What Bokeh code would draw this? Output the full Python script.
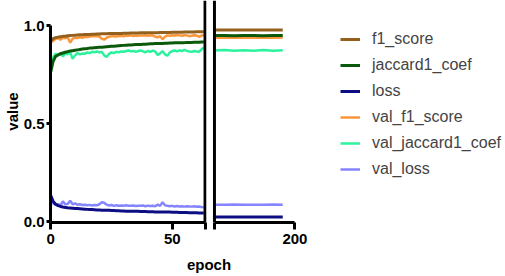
from bokeh.plotting import figure
from bokeh.models import Range1d, Span, FixedTicker, Legend, LegendItem, Label
from bokeh.layouts import row, column
from bokeh.embed import file_html
from bokeh.resources import INLINE

FONT = "Liberation Sans"

epochs_left = list(range(64))
f1_score_left = [0.925, 0.935, 0.940, 0.943, 0.945, 0.947, 0.948, 0.950, 0.951, 0.952,
                 0.953, 0.954, 0.955, 0.955, 0.956, 0.957, 0.957, 0.958, 0.958, 0.959,
                 0.959, 0.960, 0.960, 0.960, 0.961, 0.961, 0.961, 0.962, 0.962, 0.962,
                 0.963, 0.963, 0.963, 0.964, 0.964, 0.964, 0.964, 0.965, 0.965, 0.965,
                 0.965, 0.966, 0.966, 0.966, 0.966, 0.967, 0.967, 0.967, 0.967, 0.967,
                 0.968, 0.968, 0.968, 0.968, 0.968, 0.969, 0.969, 0.969, 0.969, 0.969,
                 0.970, 0.970, 0.970, 0.970]
jaccard1_coef_left = [0.765, 0.820, 0.845, 0.852, 0.858, 0.862, 0.866, 0.869, 0.872, 0.874,
                      0.876, 0.878, 0.880, 0.882, 0.884, 0.885, 0.887, 0.888, 0.889, 0.890,
                      0.891, 0.892, 0.893, 0.894, 0.895, 0.896, 0.897, 0.898, 0.899, 0.900,
                      0.901, 0.902, 0.903, 0.903, 0.904, 0.905, 0.905, 0.906, 0.907, 0.907,
                      0.908, 0.909, 0.909, 0.910, 0.910, 0.911, 0.911, 0.912, 0.912, 0.913,
                      0.913, 0.914, 0.914, 0.914, 0.915, 0.915, 0.916, 0.916, 0.916, 0.917,
                      0.917, 0.917, 0.918, 0.918]
loss_left = [0.135, 0.105, 0.090, 0.083, 0.079, 0.076, 0.074, 0.072, 0.071, 0.070,
             0.069, 0.068, 0.067, 0.066, 0.065, 0.064, 0.063, 0.063, 0.062, 0.061,
             0.061, 0.060, 0.060, 0.059, 0.059, 0.058, 0.058, 0.057, 0.057, 0.056,
             0.056, 0.055, 0.055, 0.055, 0.054, 0.054, 0.054, 0.053, 0.053, 0.053,
             0.052, 0.052, 0.052, 0.051, 0.051, 0.051, 0.050, 0.050, 0.050, 0.050,
             0.049, 0.049, 0.049, 0.048, 0.048, 0.048, 0.048, 0.047, 0.047, 0.047,
             0.047, 0.046, 0.046, 0.046]
val_f1_score_left = [0.915, 0.925, 0.935, 0.938, 0.930, 0.940, 0.937, 0.942, 0.915, 0.935,
                     0.940, 0.938, 0.943, 0.940, 0.945, 0.944, 0.946, 0.948, 0.947, 0.949,
                     0.946, 0.935, 0.930, 0.940, 0.945, 0.947, 0.948, 0.946, 0.949, 0.950,
                     0.948, 0.951, 0.950, 0.952, 0.949, 0.951, 0.950, 0.952, 0.951, 0.953,
                     0.950, 0.952, 0.951, 0.945, 0.942, 0.948, 0.932, 0.945, 0.952, 0.950,
                     0.953, 0.951, 0.954, 0.952, 0.950, 0.953, 0.952, 0.948, 0.950, 0.953,
                     0.951, 0.945, 0.950, 0.955]
val_jaccard1_coef_left = [0.815, 0.840, 0.858, 0.850, 0.862, 0.845, 0.860, 0.855, 0.865, 0.832,
                          0.850, 0.862, 0.855, 0.860, 0.858, 0.865, 0.862, 0.868, 0.866, 0.870,
                          0.865, 0.868, 0.850, 0.842, 0.858, 0.865, 0.862, 0.868, 0.866, 0.870,
                          0.868, 0.872, 0.875, 0.870, 0.873, 0.868, 0.872, 0.875, 0.870, 0.866,
                          0.872, 0.868, 0.874, 0.870, 0.852, 0.860, 0.872, 0.855, 0.848, 0.865,
                          0.872, 0.875, 0.870, 0.876, 0.872, 0.878, 0.873, 0.870, 0.868, 0.872,
                          0.870, 0.868, 0.880, 0.890]
val_loss_left = [0.100, 0.095, 0.088, 0.090, 0.085, 0.105, 0.090, 0.092, 0.108, 0.090,
                 0.095, 0.088, 0.090, 0.086, 0.088, 0.085, 0.087, 0.084, 0.086, 0.085,
                 0.090, 0.100, 0.098, 0.088, 0.084, 0.086, 0.082, 0.085, 0.083, 0.084,
                 0.082, 0.085, 0.083, 0.082, 0.084, 0.081, 0.083, 0.082, 0.084, 0.080,
                 0.083, 0.081, 0.082, 0.080, 0.088, 0.082, 0.100, 0.085, 0.082, 0.080,
                 0.082, 0.079, 0.081, 0.079, 0.080, 0.078, 0.080, 0.079, 0.078, 0.080,
                 0.077, 0.079, 0.076, 0.075]

epochs_right = [167, 171, 175, 179, 183, 187, 191, 195]
f1_score_right = [0.980, 0.980, 0.980, 0.980, 0.980, 0.980, 0.980, 0.980]
jaccard1_coef_right = [0.951, 0.951, 0.950, 0.951, 0.951, 0.950, 0.951, 0.951]
loss_right = [0.025, 0.025, 0.025, 0.025, 0.025, 0.025, 0.025, 0.025]
val_f1_score_right = [0.940, 0.941, 0.940, 0.940, 0.941, 0.940, 0.940, 0.941]
val_jaccard1_coef_right = [0.875, 0.877, 0.873, 0.876, 0.874, 0.877, 0.874, 0.876]
val_loss_right = [0.088, 0.087, 0.089, 0.088, 0.087, 0.088, 0.089, 0.088]

series_names = ["f1_score", "jaccard1_coef", "loss", "val_f1_score", "val_jaccard1_coef", "val_loss"]
series_colors = ["#94601E", "#0B5A0B", "#0E0E84", "#F9973A", "#2CF29E", "#8585FF"]
series_widths = [3, 3, 3, 2.5, 2.5, 2.5]
left_values = [f1_score_left, jaccard1_coef_left, loss_left,
               val_f1_score_left, val_jaccard1_coef_left, val_loss_left]
right_values = [f1_score_right, jaccard1_coef_right, loss_right,
                val_f1_score_right, val_jaccard1_coef_right, val_loss_right]

y_ticks = [0.0, 0.5, 1.0]
left_x_ticks = [0, 50]
right_x_ticks = [200]
left_break = 63.5
right_break = 167

yr = Range1d(-0.003, 1.13)


def base_style(p):
    p.xgrid.visible = False
    p.ygrid.visible = False
    p.outline_line_color = None
    p.background_fill_color = "white"
    p.border_fill_color = "white"


def style_axis(ax):
    ax.axis_line_width = 3
    ax.axis_line_color = "black"
    ax.major_tick_line_width = 3
    ax.major_tick_line_color = "black"
    ax.minor_tick_line_color = None
    ax.major_tick_in = 0
    ax.major_label_text_font = FONT
    ax.major_label_text_font_style = "bold"
    ax.major_label_text_font_size = "15px"
    ax.major_label_text_color = "black"
    ax.axis_label_text_font = FONT
    ax.axis_label_text_font_style = "bold"
    ax.axis_label_text_font_size = "15px"
    ax.axis_label_text_color = "black"


# ---------------- left segment ----------------
L = figure(width=207, height=250, x_range=Range1d(-0.1, 64.1), y_range=yr,
           output_backend="svg", toolbar_location=None,
           min_border_left=49, min_border_right=1, min_border_top=0, min_border_bottom=28)
base_style(L)
for vals, c, w in list(zip(left_values, series_colors, series_widths))[::-1]:
    L.line(epochs_left, vals, line_color=c, line_width=w)

style_axis(L.xaxis[0])
L.xaxis[0].ticker = FixedTicker(ticks=left_x_ticks + [left_break])
L.xaxis[0].major_label_overrides = {left_break: ""}
L.xaxis[0].bounds = (0, left_break)
L.xaxis[0].major_tick_out = 7
L.xaxis[0].major_label_standoff = 4

style_axis(L.yaxis[0])
L.yaxis[0].ticker = FixedTicker(ticks=y_ticks)
L.yaxis[0].major_label_overrides = {0.0: "0.0", 0.5: "0.5", 1.0: "1.0"}
L.yaxis[0].bounds = (0, 1)
L.yaxis[0].major_tick_out = 4
L.yaxis[0].major_label_standoff = 2
L.yaxis[0].axis_label = "value"
L.yaxis[0].axis_label_standoff = 0
L.add_layout(Span(location=left_break, dimension="height", line_color="black", line_width=3))

# ---------------- right segment (frame runs to the page edge to hold the legend) ----------------
R = figure(width=298, height=250, x_range=Range1d(166.2, 286.3), y_range=yr,
           output_backend="svg", toolbar_location=None, y_axis_location=None,
           min_border_left=5, min_border_right=0, min_border_top=0, min_border_bottom=28)
base_style(R)
renderers = {}
for name, vals, c, w in list(zip(series_names, right_values, series_colors, series_widths))[::-1]:
    renderers[name] = R.line(epochs_right, vals, line_color=c, line_width=w)

style_axis(R.xaxis[0])
R.xaxis[0].ticker = FixedTicker(ticks=[right_break] + right_x_ticks)
R.xaxis[0].major_label_overrides = {right_break: ""}
R.xaxis[0].bounds = (right_break, 200)
R.xaxis[0].major_tick_out = 7
R.xaxis[0].major_label_standoff = 4
R.add_layout(Span(location=right_break, dimension="height", line_color="black", line_width=3))

legend = Legend(items=[LegendItem(label=n, renderers=[renderers[n]]) for n in series_names],
                location=(128, 43), label_text_font=FONT, label_text_font_size="16px",
                glyph_width=20, glyph_height=20, label_height=20, label_standoff=12,
                spacing=6, padding=0, margin=0, border_line_color=None,
                background_fill_alpha=0)
R.add_layout(legend, "center")

# ---------------- x axis title strip ----------------
B = figure(width=505, height=26, x_range=Range1d(0, 505), y_range=Range1d(0, 26),
           output_backend="svg", toolbar_location=None,
           x_axis_location=None, y_axis_location=None, min_border=0)
base_style(B)
B.add_layout(Label(x=208.5, y=12, text="epoch", text_align="center", text_baseline="middle",
                   text_font=FONT, text_font_style="bold", text_font_size="15px",
                   text_color="black"))

layout = column(row(L, R), B)
open("out.html", "w").write(file_html(layout, INLINE))
